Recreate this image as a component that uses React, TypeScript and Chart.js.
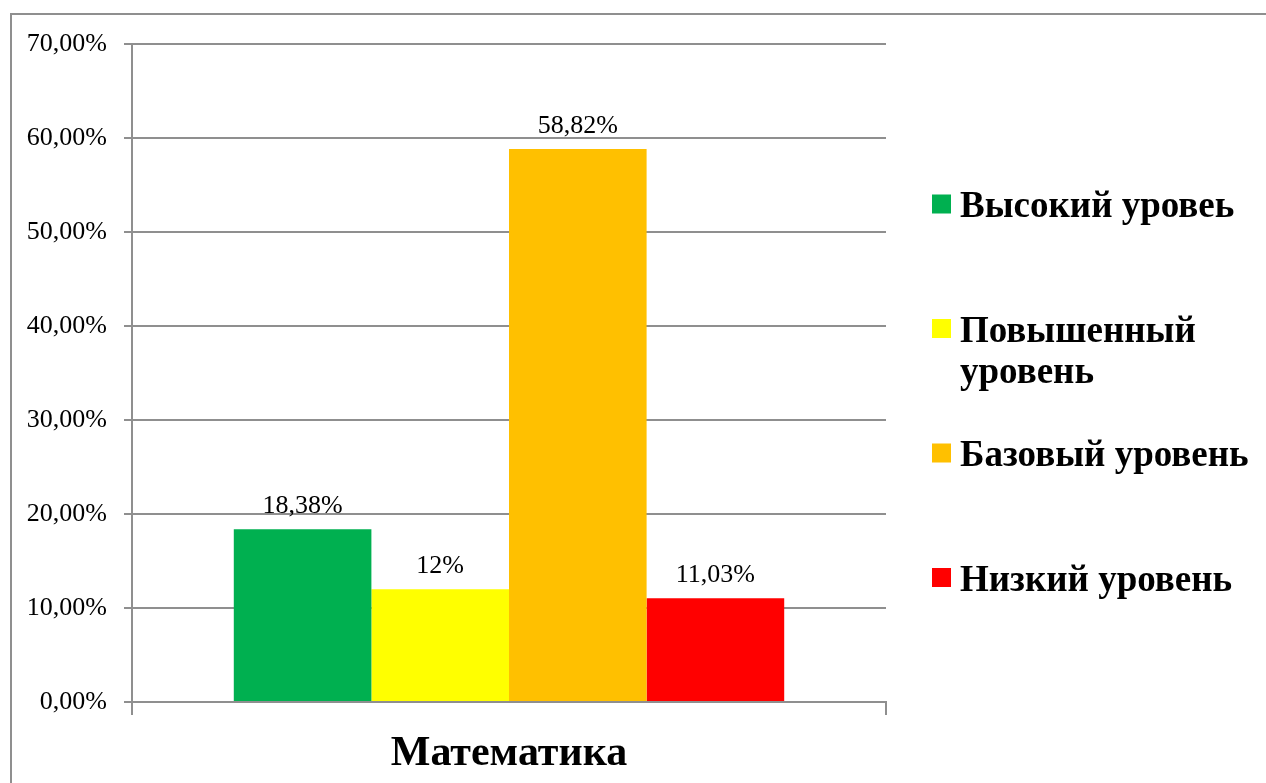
import React, { useEffect, useRef } from "react";
import { Chart, registerables } from "chart.js";

Chart.register(...registerables);

const categories = ["Математика"];
const seriesNames = ["Высокий уровеь", "Повышенный уровень", "Базовый уровень", "Низкий уровень"];
const seriesValues = [18.38, 12, 58.82, 11.03];
const valueLabels = ["18,38%", "12%", "58,82%", "11,03%"];
const seriesColors = ["#00B050", "#FFFF00", "#FFC000", "#FF0000"];
const yMin = 0;
const yMax = 70;
const yStep = 10;

const SERIF = "'Liberation Serif', 'Times New Roman', serif";
const GRID = "#8f8f8f";

const frame = {
  id: "frame",
  beforeDraw(chart: any) {
    const ctx = chart.ctx;
    ctx.save();
    ctx.fillStyle = "#ffffff";
    ctx.fillRect(0, 0, chart.width, chart.height);
    ctx.strokeStyle = GRID;
    ctx.lineWidth = 2;
    ctx.beginPath();
    ctx.moveTo(11, chart.height + 5);
    ctx.lineTo(11, 14);
    ctx.lineTo(chart.width + 5, 14);
    ctx.stroke();
    ctx.restore();
  },
};

const valueLabelPlugin = {
  id: "valueLabels",
  afterDatasetsDraw(chart: any) {
    const ctx = chart.ctx;
    ctx.save();
    ctx.font = `26px ${SERIF}`;
    ctx.fillStyle = "#000";
    ctx.textAlign = "center";
    ctx.textBaseline = "alphabetic";
    chart.data.datasets.forEach((ds: any, i: number) => {
      const meta = chart.getDatasetMeta(i);
      meta.data.forEach((bar: any) => {
        ctx.fillText(valueLabels[i], bar.x, bar.y - 16);
      });
    });
    ctx.restore();
  },
};

const legendPlugin = {
  id: "customLegend",
  afterDraw(chart: any) {
    const ctx = chart.ctx;
    const area = chart.chartArea;
    const boxX = area.right + 46;
    const textX = area.right + 74;
    const maxW = chart.width - textX - 2;
    const firstCenter = area.top + 160;
    const spacing = 124.5;
    const lineH = 41;
    ctx.save();
    ctx.font = `bold 37px ${SERIF}`;
    ctx.textAlign = "left";
    ctx.textBaseline = "alphabetic";
    chart.data.datasets.forEach((ds: any, i: number) => {
      const cy = firstCenter + i * spacing;
      ctx.fillStyle = ds.backgroundColor;
      ctx.fillRect(boxX, cy - 9.5, 19, 19);
      const words = String(ds.label).split(" ");
      const lines: string[] = [];
      let cur = "";
      words.forEach((w) => {
        const t = cur ? cur + " " + w : w;
        if (ctx.measureText(t).width > maxW && cur) {
          lines.push(cur);
          cur = w;
        } else cur = t;
      });
      if (cur) lines.push(cur);
      ctx.fillStyle = "#000";
      lines.forEach((ln, k) => {
        ctx.fillText(ln, textX, cy + 13 + k * lineH);
      });
    });
    ctx.restore();
  },
};

export default function App() {
  const ref = useRef<HTMLCanvasElement | null>(null);
  useEffect(() => {
    document.body.style.margin = "0";
    document.body.style.overflow = "hidden";
    if (!ref.current) return;
    const chart = new Chart(ref.current, {
      type: "bar",
      data: {
        labels: categories,
        datasets: seriesNames.map((name, i) => ({
          label: name,
          data: [seriesValues[i]],
          backgroundColor: seriesColors[i],
          borderWidth: 0,
          barPercentage: 1,
          categoryPercentage: 0.73,
        })),
      },
      options: {
        responsive: false,
        animation: false,
        devicePixelRatio: 1,
        layout: { padding: { left: 10, top: 44, right: 380, bottom: 0 } },
        plugins: {
          legend: { display: false },
          tooltip: { enabled: false },
          title: { display: false },
        },
        scales: {
          x: {
            offset: true,
            grid: {
              offset: true,
              drawOnChartArea: false,
              drawTicks: true,
              tickLength: 13,
              color: GRID,
              lineWidth: 2,
            },
            border: { display: true, color: GRID, width: 2 },
            ticks: {
              color: "#000",
              font: { family: SERIF, size: 42, weight: "bold" },
              padding: 14,
            },
            afterFit: (s: any) => {
              s.height = 81;
            },
          },
          y: {
            min: yMin,
            max: yMax,
            ticks: {
              stepSize: yStep,
              color: "#000",
              font: { family: SERIF, size: 26 },
              padding: 17,
              callback: (v: any) => Number(v).toFixed(2).replace(".", ",") + "%",
            },
            grid: {
              color: GRID,
              lineWidth: 2,
              tickLength: 8,
            },
            border: { display: true, color: GRID, width: 2 },
            afterFit: (s: any) => {
              s.width = 122;
            },
          },
        },
      },
      plugins: [frame, valueLabelPlugin, legendPlugin],
    });
    return () => chart.destroy();
  }, []);
  return (
    <canvas
      ref={ref}
      width={1266}
      height={783}
      style={{ display: "block", width: 1266, height: 783 }}
    />
  );
}
